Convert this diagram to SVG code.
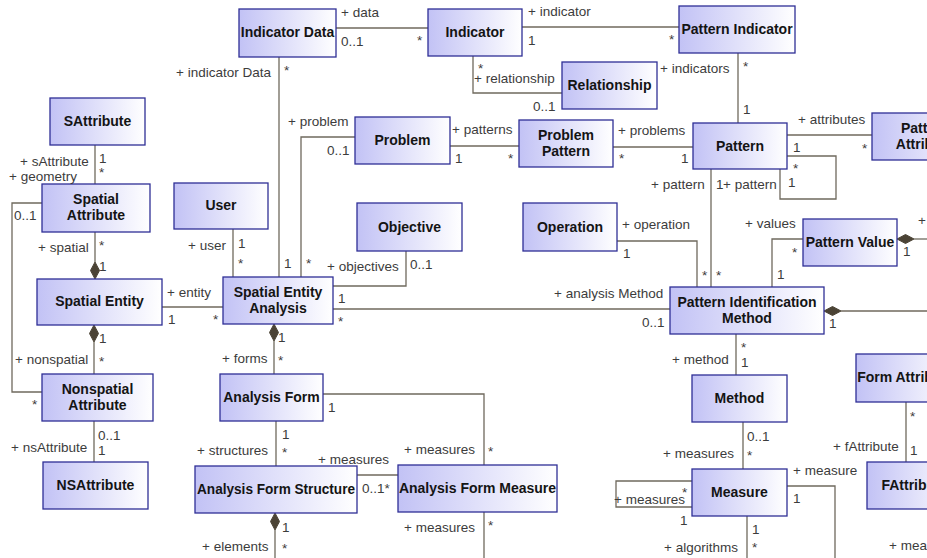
<svg xmlns="http://www.w3.org/2000/svg" width="927" height="558" viewBox="0 0 927 558">
<defs>
<linearGradient id="g" x1="0" y1="0" x2="1" y2="0">
<stop offset="0" stop-color="#c2c2f5"/>
<stop offset="1" stop-color="#ffffff"/>
</linearGradient>
<style>
.n rect{fill:url(#g);stroke:#2f2f96;stroke-width:1.3}
.n text{font-family:"Liberation Sans",Arial,sans-serif;font-size:14px;font-weight:bold;fill:#141414;text-anchor:middle}
.c path{fill:none;stroke:#6f695d;stroke-width:1.3}
.c path.d{fill:#4b4335;stroke:#4b4335;stroke-width:1}
.c text{font-family:"Liberation Sans",Arial,sans-serif;font-size:13.5px;fill:#3c3c3c}
</style>
</defs>
<rect width="927" height="558" fill="#ffffff"/>
<g id="connectors" class="c">
<path d="M336,28 H428"/>
<path d="M522,27 H679"/>
<path d="M473,56 V93 H562"/>
<path d="M738,53 V123"/>
<path d="M450,146 H519"/>
<path d="M613,147 H693"/>
<path d="M787,135 H872"/>
<path d="M787,156 H836 V199 H780 V169"/>
<path d="M711,169 V287"/>
<path d="M617,241 H697 V287"/>
<path d="M803,239 H772 V287"/>
<path d="M914,239 H927"/>
<path class="d" d="M897,239 L905.5,234.5 L914,239 L905.5,243.5 Z"/>
<path d="M841,311 H927"/>
<path class="d" d="M824,311 L832.5,306.5 L841,311 L832.5,315.5 Z"/>
<path d="M333,309 H670"/>
<path d="M406,251 V286 H333"/>
<path d="M355,137 H301 V277"/>
<path d="M279,57 V277"/>
<path d="M233,229 V277"/>
<path d="M95,145 V184"/>
<path d="M95,232 V262"/>
<path class="d" d="M95,279 L99.5,270.5 L95,262 L90.5,270.5 Z"/>
<path d="M94,342 V374"/>
<path class="d" d="M94,325 L98.5,333.5 L94,342 L89.5,333.5 Z"/>
<path d="M42,203 H12 V392 H42"/>
<path d="M94,421 V462"/>
<path d="M162,307 H223"/>
<path d="M274,341 V374"/>
<path class="d" d="M274,324 L278.5,332.5 L274,341 L269.5,332.5 Z"/>
<path d="M276,421 V466"/>
<path d="M275,530 V558"/>
<path class="d" d="M275,513 L279.5,521.5 L275,530 L270.5,521.5 Z"/>
<path d="M323,394 H484 V465"/>
<path d="M357,475 H398"/>
<path d="M484,512 V558"/>
<path d="M736,334 V375"/>
<path d="M743,422 V469"/>
<path d="M692,481 H616 V507 H692"/>
<path d="M747,516 V558"/>
<path d="M787,486 H835 V558"/>
<path d="M906,402 V462"/>
</g>
<g id="n-indicator-data" class="n"><rect x="239" y="9" width="97" height="48"/><text x="287.5" y="37">Indicator Data</text></g>
<g id="n-indicator" class="n"><rect x="428" y="9" width="94" height="47"/><text x="475" y="37">Indicator</text></g>
<g id="n-pattern-indicator" class="n"><rect x="679" y="6" width="116" height="47"/><text x="737" y="34">Pattern Indicator</text></g>
<g id="n-relationship" class="n"><rect x="562" y="62" width="95" height="47"/><text x="609.5" y="90">Relationship</text></g>
<g id="n-sattribute" class="n"><rect x="50" y="98" width="95" height="47"/><text x="97.5" y="126">SAttribute</text></g>
<g id="n-spatial-attribute" class="n"><rect x="42" y="184" width="108" height="48"/><text x="96" y="204">Spatial</text><text x="96" y="220">Attribute</text></g>
<g id="n-user" class="n"><rect x="174" y="183" width="94" height="46"/><text x="221" y="210">User</text></g>
<g id="n-spatial-entity" class="n"><rect x="37" y="279" width="125" height="46"/><text x="99.5" y="306">Spatial Entity</text></g>
<g id="n-spatial-entity-analysis" class="n"><rect x="223" y="277" width="110" height="47"/><text x="278" y="297">Spatial Entity</text><text x="278" y="313">Analysis</text></g>
<g id="n-problem" class="n"><rect x="355" y="117" width="95" height="47"/><text x="402.5" y="145">Problem</text></g>
<g id="n-problem-pattern" class="n"><rect x="519" y="120" width="94" height="47"/><text x="566" y="139.5">Problem</text><text x="566" y="155.5">Pattern</text></g>
<g id="n-pattern" class="n"><rect x="693" y="123" width="94" height="46"/><text x="740" y="150.5">Pattern</text></g>
<g id="n-pattern-attribute" class="n"><rect x="872" y="113" width="106" height="47"/><text x="925" y="132.5">Pattern</text><text x="925" y="148.5">Attribute</text></g>
<g id="n-objective" class="n"><rect x="357" y="203" width="105" height="48"/><text x="409.5" y="231.5">Objective</text></g>
<g id="n-operation" class="n"><rect x="523" y="203" width="94" height="48"/><text x="570" y="231.5">Operation</text></g>
<g id="n-pattern-value" class="n"><rect x="803" y="219" width="94" height="47"/><text x="850" y="246.5">Pattern Value</text></g>
<g id="n-pattern-identification-method" class="n"><rect x="670" y="287" width="154" height="47"/><text x="747" y="306.5">Pattern Identification</text><text x="747" y="322.5">Method</text></g>
<g id="n-nonspatial-attribute" class="n"><rect x="42" y="374" width="111" height="47"/><text x="97.5" y="394">Nonspatial</text><text x="97.5" y="410">Attribute</text></g>
<g id="n-nsattribute" class="n"><rect x="43" y="462" width="105" height="47"/><text x="95.5" y="490">NSAttribute</text></g>
<g id="n-analysis-form" class="n"><rect x="220" y="374" width="103" height="47"/><text x="271.5" y="401.5">Analysis Form</text></g>
<g id="n-analysis-form-structure" class="n"><rect x="195" y="466" width="162" height="47"/><text x="276" y="494" textLength="158" lengthAdjust="spacingAndGlyphs">Analysis Form Structure</text></g>
<g id="n-analysis-form-measure" class="n"><rect x="398" y="465" width="159" height="47"/><text x="477.5" y="493">Analysis Form Measure</text></g>
<g id="n-method" class="n"><rect x="692" y="375" width="95" height="47"/><text x="739.5" y="403">Method</text></g>
<g id="n-measure" class="n"><rect x="692" y="469" width="95" height="47"/><text x="739.5" y="497">Measure</text></g>
<g id="n-form-attribute" class="n"><rect x="856" y="354" width="99" height="48"/><text x="905.5" y="382">Form Attribute</text></g>
<g id="n-fattribute" class="n"><rect x="867" y="462" width="95" height="47"/><text x="914.5" y="490">FAttribute</text></g>
<g id="labels" class="c">
<text x="341" y="17">+ data</text>
<text x="341" y="46">0..1</text>
<text x="417" y="45">*</text>
<text x="528" y="16">+ indicator</text>
<text x="528" y="45">1</text>
<text x="669" y="44">*</text>
<text x="478" y="73">*</text>
<text x="474" y="83">+ relationship</text>
<text x="533" y="111">0..1</text>
<text x="660" y="73">+ indicators</text>
<text x="743" y="71">*</text>
<text x="743" y="114">1</text>
<text x="452" y="134">+ patterns</text>
<text x="455" y="163">1</text>
<text x="508" y="163">*</text>
<text x="618" y="135">+ problems</text>
<text x="619" y="163">*</text>
<text x="681" y="163">1</text>
<text x="798" y="124">+ attributes</text>
<text x="862" y="153">*</text>
<text x="793" y="152">1</text>
<text x="793" y="173">*</text>
<text x="651" y="189">+ pattern</text>
<text x="716" y="189">1</text>
<text x="723" y="189">+ pattern</text>
<text x="788" y="187">1</text>
<text x="176" y="77">+ indicator Data</text>
<text x="284" y="75">*</text>
<text x="288" y="126">+ problem</text>
<text x="327" y="155">0..1</text>
<text x="20" y="166">+ sAttribute</text>
<text x="99" y="163">1</text>
<text x="99" y="177">*</text>
<text x="9" y="181">+ geometry</text>
<text x="14" y="220">0..1</text>
<text x="38" y="252">+ spatial</text>
<text x="99" y="250">*</text>
<text x="99" y="271">1</text>
<text x="188" y="250">+ user</text>
<text x="238" y="248">1</text>
<text x="238" y="268">*</text>
<text x="284" y="268">1</text>
<text x="306" y="268">*</text>
<text x="327" y="271">+ objectives</text>
<text x="410" y="269">0..1</text>
<text x="167" y="297">+ entity</text>
<text x="168" y="324">1</text>
<text x="213" y="324">*</text>
<text x="338" y="303">1</text>
<text x="338" y="326">*</text>
<text x="554" y="298">+ analysis Method</text>
<text x="642" y="327">0..1</text>
<text x="622" y="229">+ operation</text>
<text x="623" y="258">1</text>
<text x="702" y="280">*</text>
<text x="716" y="280">*</text>
<text x="745" y="228">+ values</text>
<text x="792" y="257">*</text>
<text x="777" y="279">1</text>
<text x="903" y="256">1</text>
<text x="918" y="225">+</text>
<text x="829" y="328">1</text>
<text x="99" y="343">1</text>
<text x="15" y="364">+ nonspatial</text>
<text x="99" y="366">*</text>
<text x="278" y="342">1</text>
<text x="222" y="363">+ forms</text>
<text x="278" y="365">*</text>
<text x="32" y="409">*</text>
<text x="98" y="440">0..1</text>
<text x="11" y="452">+ nsAttribute</text>
<text x="98" y="455">1</text>
<text x="282" y="439">1</text>
<text x="197" y="455">+ structures</text>
<text x="282" y="457">*</text>
<text x="328" y="412">1</text>
<text x="404" y="454">+ measures</text>
<text x="488" y="456">*</text>
<text x="318" y="464">+ measures</text>
<text x="362" y="493">0..1*</text>
<text x="404" y="532">+ measures</text>
<text x="488" y="530">*</text>
<text x="282" y="532">1</text>
<text x="202" y="551">+ elements</text>
<text x="282" y="553">*</text>
<text x="672" y="364">+ method</text>
<text x="741" y="352">*</text>
<text x="741" y="367">1</text>
<text x="747" y="441">0..1</text>
<text x="663" y="458">+ measures</text>
<text x="747" y="460">*</text>
<text x="793" y="475">+ measure</text>
<text x="793" y="503">1</text>
<text x="682" y="497">*</text>
<text x="614" y="504">+ measures</text>
<text x="680" y="525">1</text>
<text x="752" y="534">1</text>
<text x="664" y="552">+ algorithms</text>
<text x="752" y="552">*</text>
<text x="910" y="421">*</text>
<text x="833" y="451">+ fAttribute</text>
<text x="910" y="455">1</text>
<text x="889" y="550">+ measures</text>
</g>
</svg>
